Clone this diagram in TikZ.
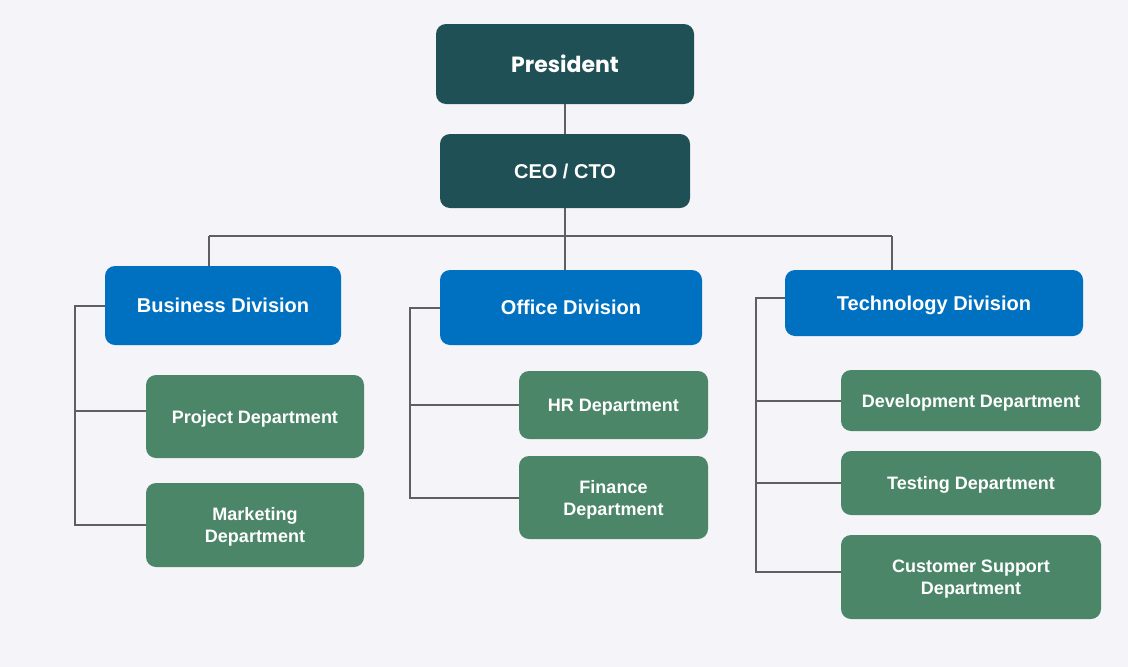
\documentclass[tikz,border=0pt]{standalone}
\usepackage{fontspec}
\setmainfont{Liberation Sans}
\newfontfamily\popfont{Poppins}
\usetikzlibrary{calc}
\definecolor{bgc}{HTML}{F4F4F9}
\definecolor{topc}{HTML}{1F5055}
\definecolor{divc}{HTML}{0070C0}
\definecolor{depc}{HTML}{4C8669}
\definecolor{linec}{HTML}{5F5F5F}
\tikzset{
  box/.style={rectangle, rounded corners=10pt, text=white, align=center, inner sep=0pt, text depth=0pt},
  topbox/.style={box, fill=topc, font=\bfseries\fontsize{20}{24}\selectfont},
  divbox/.style={box, fill=divc, font=\bfseries\fontsize{20}{24}\selectfont},
  depbox/.style={box, fill=depc, font=\bfseries\fontsize{18}{22}\selectfont},
  conn/.style={draw=linec, line width=2pt},
}
\begin{document}
\begin{tikzpicture}[x=1pt,y=-1pt]
\fill[bgc] (0,0) rectangle (1128,667);
\useasboundingbox (0,0) rectangle (1128,667);
% top
\node[topbox, minimum width=258pt, minimum height=80pt, font=\popfont\bfseries\fontsize{22}{26}\selectfont] (pres) at (565,64) {President};
\node[topbox, minimum width=250pt, minimum height=74pt] (ceo) at (565,171) {CEO / CTO};
% divisions
\node[divbox, minimum width=236pt, minimum height=79pt] (bus) at (223,305.5) {Business Division};
\node[divbox, minimum width=262pt, minimum height=75pt] (off) at (571,307.5) {Office Division};
\node[divbox, minimum width=298pt, minimum height=66pt] (tech) at (934,303) {Technology Division};
% departments
\node[depbox, minimum width=218pt, minimum height=83pt] (proj) at (255,416.5) {Project Department};
\node[depbox, minimum width=218pt, minimum height=84pt] (mkt) at (255,525) {Marketing\\Department};
\node[depbox, minimum width=189pt, minimum height=68pt] (hr) at (613.5,405) {HR Department};
\node[depbox, minimum width=189pt, minimum height=83pt] (fin) at (613.5,497.5) {Finance\\Department};
\node[depbox, minimum width=260pt, minimum height=61pt] (dev) at (971,400.5) {Development Department};
\node[depbox, minimum width=260pt, minimum height=64pt] (test) at (971,483) {Testing Department};
\node[depbox, minimum width=260pt, minimum height=84pt] (cust) at (971,577) {Customer Support\\Department};
% junction coordinates
\coordinate (hubB) at (209,236);
\coordinate (hubT) at (892,236);
\coordinate (bx) at (75,0);
\coordinate (ox) at (410,0);
\coordinate (tx) at (756,0);
% connectors
\draw[conn] (pres) -- (ceo);
\draw[conn] (ceo.south) -- (ceo.south |- off.north);
\draw[conn] (hubB) -- (hubT);
\draw[conn] (hubB) -- (hubB |- bus.north);
\draw[conn] (hubT) -- (hubT |- tech.north);
% business
\draw[conn] (bus.west) -- (bus.west -| bx) |- (mkt.west);
\draw[conn] ([yshift=6pt]proj.west) -- ([yshift=6pt]proj.west -| bx);
% office
\draw[conn] (off.west) -- (off.west -| ox) |- (fin.west);
\draw[conn] (hr.west) -- (hr.west -| ox);
% technology
\draw[conn] ([yshift=5pt]tech.west) -- ([yshift=5pt]tech.west -| tx) |- ([yshift=5pt]cust.west);
\draw[conn] (dev.west) -- (dev.west -| tx);
\draw[conn] (test.west) -- (test.west -| tx);
\end{tikzpicture}
\end{document}
